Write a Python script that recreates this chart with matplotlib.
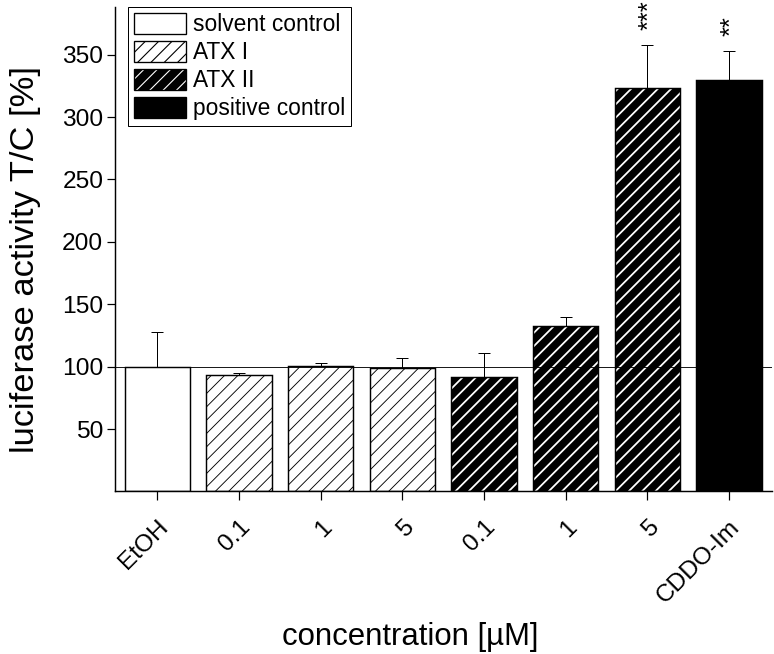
import matplotlib.pyplot as plt
from matplotlib.patches import Patch
from matplotlib.legend_handler import HandlerTuple

plt.rcParams["font.family"] = ["Liberation Sans", "DejaVu Sans"]

labels = ["EtOH", "0.1", "1", "5", "0.1", "1", "5", "CDDO-Im"]
groups = ["solvent", "atx1", "atx1", "atx1", "atx2", "atx2", "atx2", "positive"]
values = [100, 93.5, 100.5, 99, 91.5, 132.5, 323, 330]
errors = [28, 1.5, 2.5, 8, 19.5, 7.5, 35, 23]
stars = {6: "***", 7: "**"}

DPI = 80
fig = plt.figure(figsize=(774 / DPI, 654 / DPI), dpi=DPI)
ax = fig.add_axes([0.1486, 0.2485, 0.849, 0.7405])


def hatched(face, hcolor, hlw, **kw):
    # hatch colour follows edgecolor, so the outline is drawn separately
    p = Patch(facecolor=face, edgecolor=hcolor, hatch="//", lw=0, **kw)
    p.set_hatch_linewidth(hlw)
    return p


x = list(range(len(values)))
w = 0.8
for i, (v, g) in enumerate(zip(values, groups)):
    if g == "solvent":
        ax.bar(i, v, w, color="white", edgecolor="black", lw=1.3, zorder=2)
    elif g in ("atx1", "atx2"):
        face, hc, hlw = ("white", "black", 0.8) if g == "atx1" else ("black", "white", 1.6)
        b = ax.bar(i, v, w, color=face, edgecolor=hc, hatch="//", lw=0, zorder=2)
        b[0].set_hatch_linewidth(hlw)
        ax.bar(i, v, w, fill=False, edgecolor="black", lw=1.3, zorder=3)
    else:
        ax.bar(i, v, w, color="black", edgecolor="black", lw=1.3, zorder=2)

ax.errorbar(x, values, yerr=[[0] * len(errors), errors], fmt="none",
            ecolor="black", elinewidth=0.9, capsize=5, capthick=0.9, zorder=1)

ax.axhline(100, color="black", lw=0.8, zorder=4)

for i, s in stars.items():
    ax.annotate(s, xy=(i, values[i] + errors[i]), xytext=(2, 13),
                textcoords="offset points", rotation=90, ha="center",
                va="bottom", fontsize=23)

ax.set_xlim(-0.52, 7.53)
ax.set_ylim(0, 388)
ax.set_yticks([50, 100, 150, 200, 250, 300, 350])
ax.set_xticks(x)
ax.set_xticklabels(labels, rotation=45, ha="right", rotation_mode="anchor")
ax.tick_params(axis="both", direction="out", length=7, width=1.1, labelsize=22)
ax.tick_params(axis="x", length=8, pad=14)
for side in ["top", "right"]:
    ax.spines[side].set_visible(False)
for side in ["left", "bottom"]:
    ax.spines[side].set_linewidth(1.3)

ax.set_ylabel("luciferase activity T/C [%]", fontsize=31)
ax.yaxis.set_label_coords(-0.113, 0.48)
ax.set_xlabel("concentration [µM]", fontsize=28)
ax.xaxis.set_label_coords(0.449, -0.27)

h_solvent = Patch(facecolor="white", edgecolor="black", lw=1.2)
outline = Patch(fill=False, edgecolor="black", lw=1.2)
h_atx1 = (hatched("white", "black", 0.8), outline)
h_atx2 = (hatched("black", "white", 1.6), outline)
h_pos = Patch(facecolor="black", edgecolor="black", lw=1.2)
leg = ax.legend([h_solvent, h_atx1, h_atx2, h_pos],
                ["solvent control", "ATX I", "ATX II", "positive control"],
                handler_map={tuple: HandlerTuple(ndivide=1, pad=0)},
                loc="upper left", bbox_to_anchor=(0.02, 1.0), fontsize=20.5,
                fancybox=False, edgecolor="black", framealpha=1,
                handlelength=2.3, handleheight=1.05, handletextpad=0.3,
                labelspacing=0.2, borderpad=0.25, borderaxespad=0)
leg.get_frame().set_linewidth(0.9)

fig.savefig("out.png", dpi=DPI)
